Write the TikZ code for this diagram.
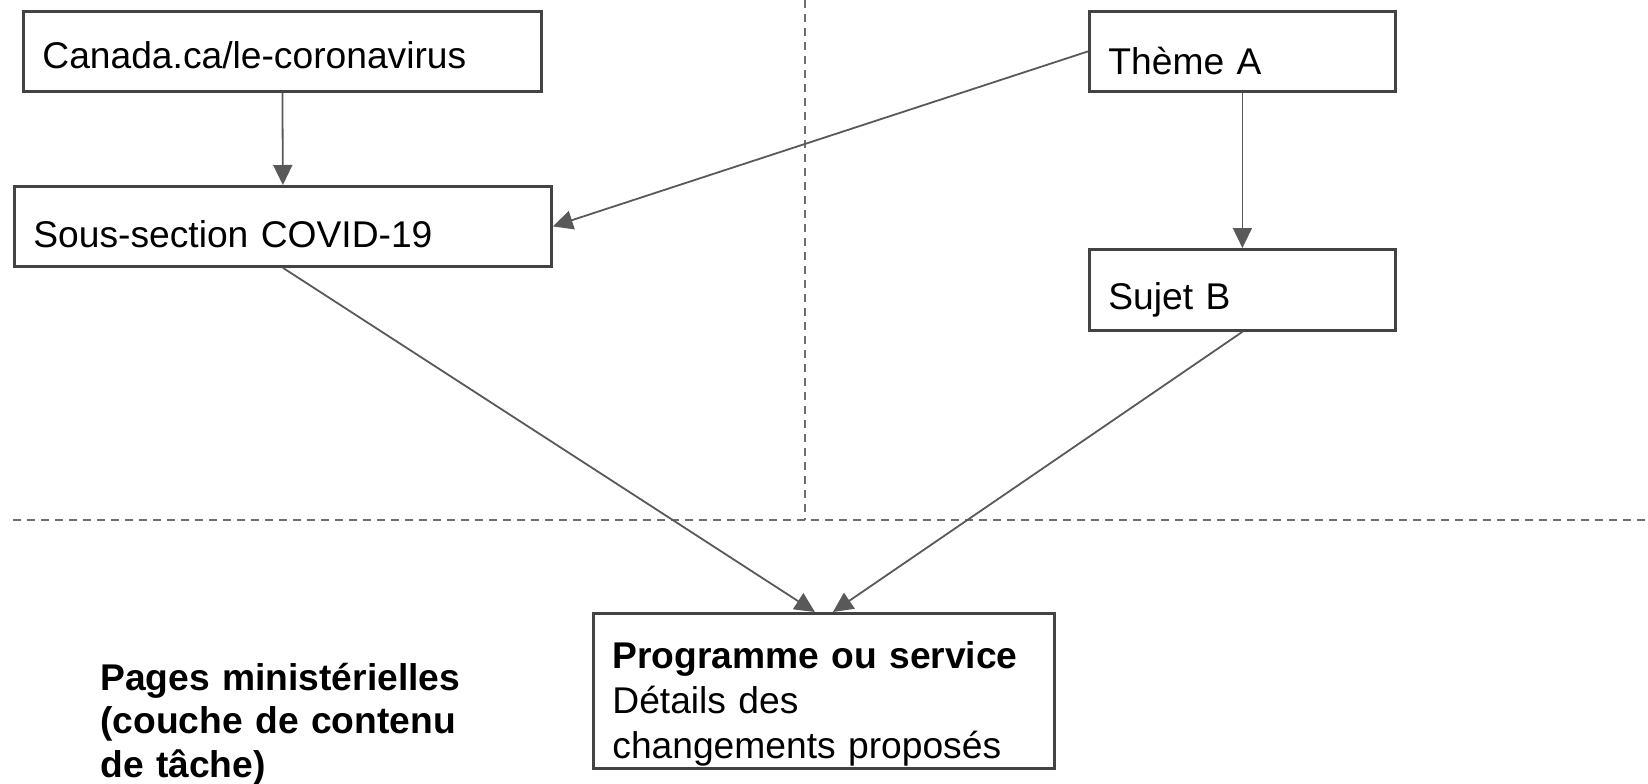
\documentclass[tikz,border=0pt]{standalone}
\usepackage{fontspec}
\setmainfont{Liberation Sans}
\usetikzlibrary{arrows.meta}

\definecolor{boxline}{HTML}{434343}
\definecolor{linkline}{HTML}{595959}
\definecolor{zoneline}{HTML}{6E6E6E}

\begin{document}
\begin{tikzpicture}[x=0.5pt,y=-0.5pt,
    page/.style={draw=boxline, line width=1.4pt, anchor=north west,
      inner xsep=9.5pt, inner ysep=0pt, align=left, text depth=0pt,
      font=\fontsize{18.6}{22.5}\selectfont},
    link/.style={draw=linkline, line width=0.9pt,
      -{Triangle[length=10pt,width=9.5pt]}},
    zone/.style={draw=zoneline, line width=1pt,
      dash pattern=on 3.75pt off 3.25pt}]

    \useasboundingbox (0,0) rectangle (1648,783);

    \draw[zone] (805,0) -- (805,520);
    \draw[zone] (13,520) -- (1648,520);

    \node[page, text width=240pt, minimum height=40pt,
    text height=17pt] (canada) at (22,10) {Canada.ca/le-coronavirus};

    \node[page, text width=249.5pt, minimum height=40pt,
    text height=21pt] (sous) at (13,185) {Sous-section COVID-19};

    \node[page, text width=134pt, minimum height=40pt,
    text height=23pt] (theme) at (1088,10) {Thème A};

    \node[page, text width=134pt, minimum height=40.5pt,
    text height=19.5pt] (sujet) at (1088,248) {Sujet B};

    \node[page, text width=211.5pt, minimum height=77.5pt,
    text height=0pt, text depth=22.5pt] (prog) at (592,612)
    {{\bfseries Programme ou service}\\Détails des\\changements proposés};

    \node[anchor=base west, inner sep=0pt, text width=185pt, align=left,
    font=\bfseries\fontsize{18.6}{21.75}\selectfont] (pages) at (100,690)
    {Pages ministérielles\\(couche de contenu\\de tâche)};

    \draw[link] (canada.south) -- (sous.north);
    \draw[link] (theme.west) -- (sous.east);
    \draw[link] (theme.south) -- (sujet.north);
    \draw[link] (sous.south) -- ([xshift=-4.5pt]prog.north);
    \draw[link] (sujet.south) -- ([xshift=4.5pt]prog.north);
  \end{tikzpicture}
\end{document}
